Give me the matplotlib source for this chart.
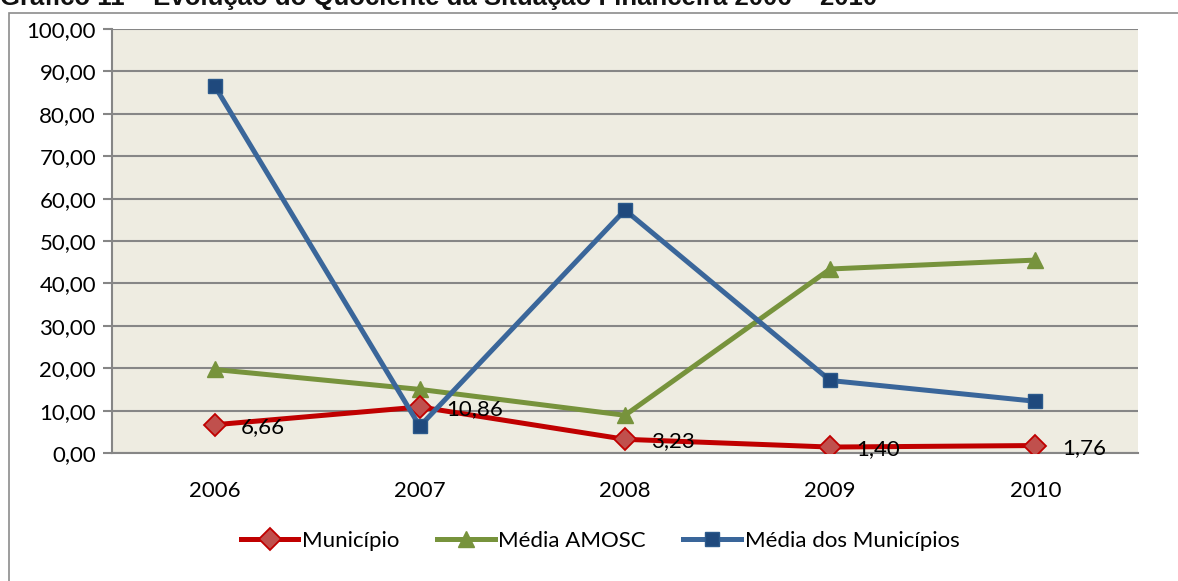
import matplotlib.pyplot as plt
from matplotlib.patches import Rectangle

plt.rcParams['font.family'] = ['Lato', 'DejaVu Sans']

anos = ['2006', '2007', '2008', '2009', '2010']
municipio = [6.66, 10.86, 3.23, 1.40, 1.76]
media_amosc = [19.7, 15.0, 8.9, 43.4, 45.5]
media_municipios = [86.6, 6.3, 57.3, 17.1, 12.2]
rotulos_municipio = ['6,66', '10,86', '3,23', '1,40', '1,76']
yticks = [0, 10, 20, 30, 40, 50, 60, 70, 80, 90, 100]

fig = plt.figure(figsize=(11.78, 5.81), dpi=100)
W, H = 1178, 581

# moldura externa do gráfico
fig.patches.append(Rectangle((9 / W, -0.05), 1.2, 1 - 13 / H + 0.05,
                             transform=fig.transFigure, fill=False,
                             edgecolor='#8c8c8c', linewidth=1.2))

# título (cortado no topo, como na imagem original)
fig.text(0.0, 1 - 4.5 / H, 'Gráfico 11 – Evolução do Quociente da Situação Financeira 2006 – 2010',
         family=['Liberation Sans', 'DejaVu Sans'], fontsize=18.5, fontweight='bold',
         ha='left', va='baseline', color='#111111')

ax = fig.add_axes([112 / W, 1 - 453 / H, (1138 - 112) / W, (453 - 29) / H])
ax.set_facecolor('#EEECE1')
x = range(len(anos))

ax.plot(x, media_amosc, color='#77933C', linewidth=3.6, marker='^',
        markersize=12, markerfacecolor='#77933C', markeredgecolor='#77933C',
        label='Média AMOSC', zorder=3)
ax.plot(x, municipio, color='#C00000', linewidth=3.6, marker='D',
        markersize=11, markerfacecolor='#C0504D', markeredgecolor='#C00000',
        markeredgewidth=1.3, label='Município', zorder=4)
ax.plot(x, media_municipios, color='#3A669A', linewidth=3.6, marker='s',
        markersize=9.5, markerfacecolor='#1F497D', markeredgecolor='#2C5A8C',
        label='Média dos Municípios', zorder=5)

for i, (v, r) in enumerate(zip(municipio, rotulos_municipio)):
    ax.annotate(r, (i, v), xytext=(19, -1.5), textcoords='offset points',
                ha='left', va='center', fontsize=16, color='black', zorder=6)

ax.set_xlim(-0.5, 4.5)
ax.set_ylim(0, 100)
ax.set_yticks(yticks)
ax.set_yticklabels([f'{t:.2f}'.replace('.', ',') for t in yticks])
ax.set_xticks(list(x))
ax.set_xticklabels(anos)
ax.yaxis.grid(True, color='#868686', linewidth=1.5)
ax.set_axisbelow(True)
for s in ['top', 'right']:
    ax.spines[s].set_visible(False)
for s in ['left', 'bottom']:
    ax.spines[s].set_color('#868686')
    ax.spines[s].set_linewidth(1.5)
ax.tick_params(axis='y', length=6.5, color='#868686', width=1.5, labelsize=16, pad=5)
ax.tick_params(axis='x', length=0, labelsize=16, pad=20)

h, l = ax.get_legend_handles_labels()
ordem = [1, 0, 2]
fig.legend([h[i] for i in ordem], [l[i] for i in ordem], loc='center',
           bbox_to_anchor=(600 / W, 1 - 541 / H), ncol=3, frameon=False,
           fontsize=16, handlelength=2.6, columnspacing=1.7, handletextpad=0.15)

fig.savefig('out.png', dpi=100)
